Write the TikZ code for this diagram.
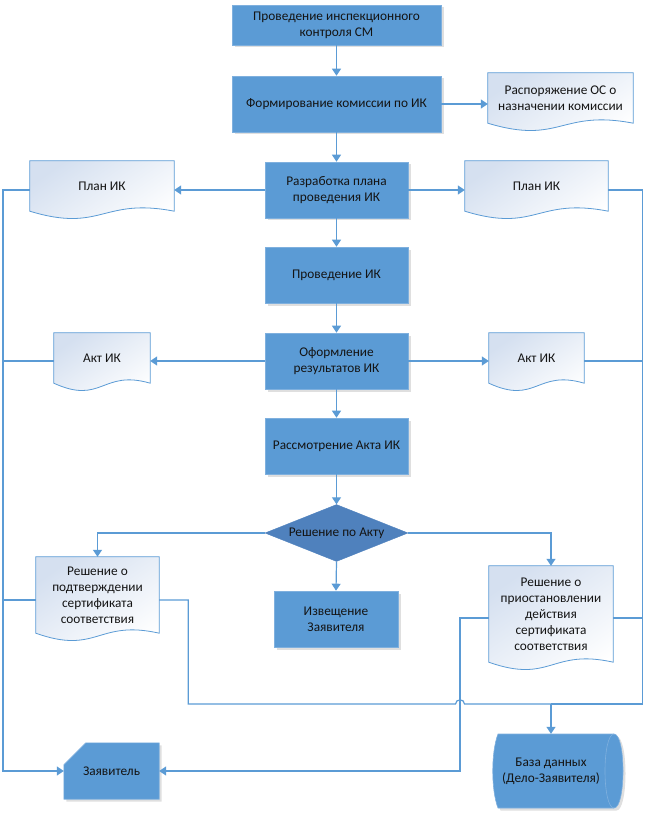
\documentclass[tikz,border=0pt]{standalone}
\usepackage{fontspec}
\setmainfont{Carlito}
\usetikzlibrary{arrows.meta,shapes.geometric,shadows,calc}
\pgfdeclarelayer{background}
\pgfsetlayers{background,main}
\definecolor{boxblue}{HTML}{5B9BD5}
\definecolor{boxedge}{HTML}{7FB0DE}
\definecolor{diablue}{HTML}{4F81BD}
\definecolor{linecol}{HTML}{5B9BD5}
\definecolor{doctop}{HTML}{D5E0F0}
\definecolor{txt}{HTML}{141414}
\begin{document}
\begin{tikzpicture}[x=1pt,y=-1pt,
 font=\fontsize{13.3}{16}\selectfont, text=txt,
 shad/.style={drop shadow={shadow xshift=2.5pt,shadow yshift=-2.5pt,opacity=0.25,fill=black!50}},
 proc/.style={rectangle, fill=boxblue, draw=boxedge, line width=0.6pt, shad, minimum width=143pt, minimum height=56pt, align=center, inner sep=2pt},
 docnode/.style={rectangle, minimum height=50pt, align=center, inner sep=2pt},
 conn/.style={draw=linecol, line width=1.2pt},
 arr/.style={conn, -{Triangle[length=7pt,width=9pt]}},
 docshape/.style={draw=linecol, line width=0.8pt, top color=doctop, bottom color=white, shading angle=35}
]
\useasboundingbox (0,0) rectangle (645,818);

% process boxes
\node[proc, minimum width=209pt, minimum height=40pt] (b1) at (336.5,25) {Проведение инспекционного\\контроля СМ};
\node[proc, minimum width=209pt] (b2) at (336.5,104) {Формирование комиссии по ИК};
\node[proc] (b3) at (336.5,190) {Разработка плана\\проведения ИК};
\node[proc] (b4) at (336.5,275) {Проведение ИК};
\node[proc] (b5) at (336.5,361) {Оформление\\результатов ИК};
\node[proc] (b6) at (336.5,446) {Рассмотрение Акта ИК};
\node[diamond, aspect=2.6, fill=diablue, draw=diablue, minimum width=143pt, minimum height=57pt, inner sep=0pt] (d) at (336.5,533) {Решение по Акту};
\node[proc, minimum width=124pt] (b7) at (336,619) {Извещение\\Заявителя};

% documents
\node[docnode, minimum width=145pt] (rasp) at (560.5,98) {Распоряжение ОС о\\назначении комиссии};
\node[docnode, minimum width=144pt] (planL) at (102,186) {План ИК};
\node[docnode, minimum width=143pt] (planR) at (536.5,186) {План ИК};
\node[docnode, minimum width=96pt] (actL) at (102,358) {Акт ИК};
\node[docnode, minimum width=95pt] (actR) at (536.5,358) {Акт ИК};
\node[docnode, minimum width=123pt, minimum height=76pt] (podt) at (97.5,595) {Решение о\\подтверждении\\сертификата\\соответствия};
\node[docnode, minimum width=124pt, minimum height=96pt] (prio) at (551,614) {Решение о\\приостановлении\\действия\\сертификата\\соответствия};

% terminals
\node[rectangle, minimum width=95pt, minimum height=56pt, inner sep=0pt] (zay) at (111.5,771) {Заявитель};
\node[rectangle, minimum width=110pt, minimum height=74pt, inner sep=0pt, align=center] (db) at (551,771) {База данных\\(Дело-Заявителя)};

\begin{pgfonlayer}{background}
 \foreach \n in {rasp,planL,planR,actL,actR,podt,prio}{
  \path[docshape] (\n.north west) -- (\n.north east) -- (\n.south east)
    .. controls ($(\n.south)+(0,-14)$) and ($(\n.south)+(0,22)$) .. (\n.south west) -- cycle;
 }
 \path[fill=boxblue, draw=boxedge, line width=0.6pt, shad]
   (zay.south west) -- ($(zay.north west)+(0,22)$) -- ($(zay.north west)+(22,0)$) -- (zay.north east) -- (zay.south east) -- cycle;
 \path[fill=boxblue, draw=boxedge, line width=0.6pt, shad]
   (498,734) -- (614,734) .. controls (626,734) and (626,808) .. (614,808) -- (498,808)
   .. controls (491,790) and (491,752) .. (498,734) -- cycle;
 \draw[draw=boxedge, line width=0.6pt] (614,734) .. controls (602,734) and (602,808) .. (614,808);
\end{pgfonlayer}

% helper coordinates
\coordinate (L) at (3,0);
\coordinate (R) at (642.5,0);
\coordinate (jn) at (551,704);
\coordinate (hx) at (460,704);

% main flow
\draw[arr] (b1.south) -- (b2.north);
\draw[arr] (b2.south) -- (b3.north);
\draw[arr] (b3.south) -- (b4.north);
\draw[arr] (b4.south) -- (b5.north);
\draw[arr] (b5.south) -- (b6.north);
\draw[arr] (b6.south) -- (d.north);
\draw[arr] (d.south) -- (b7.north);
\draw[arr] (b2.east) -- (b2.east -| rasp.west);
\draw[arr] (b3.west) -- (b3.west -| planL.east);
\draw[arr] (b3.east) -- (b3.east -| planR.west);
\draw[arr] (b5.west) -- (b5.west -| actL.east);
\draw[arr] (b5.east) -- (b5.east -| actR.west);
\draw[arr] (d.west) -| (podt.north);
\draw[arr] (d.east) -| (prio.north);

% left trunk to applicant
\draw[arr] (b3.west -| planL.west) -- (b3.west -| L) -- (zay.west -| L) -- (zay.west);
\draw[conn] (b5.west -| actL.west) -- (b5.west -| L);
\draw[conn] ([yshift=-5pt]podt.west) -- ([yshift=-5pt]podt.west -| L);

% right trunk to database
\draw[conn] (b3.east -| planR.east) -- (b3.east -| R) -- (jn -| R) -- (jn);
\draw[conn] (b5.east -| actR.east) -- (b5.east -| R);
\draw[conn] ([yshift=-4pt]prio.east) -- ([yshift=-4pt]prio.east -| R);
\draw[conn] ([yshift=-5pt]podt.east) -- ++(29,0) |- ($(hx)+(-4.5,0)$)
   .. controls ($(hx)+(-4.5,-5.5)$) and ($(hx)+(4.5,-5.5)$) .. ($(hx)+(4.5,0)$) -- (jn);
\draw[arr] (jn) -- (db.north);

% suspension decision to applicant
\draw[arr] ([yshift=-4pt]prio.west) -- ([yshift=-4pt]prio.west -| hx) -- (zay.east -| hx) -- (zay.east);
\end{tikzpicture}
\end{document}
